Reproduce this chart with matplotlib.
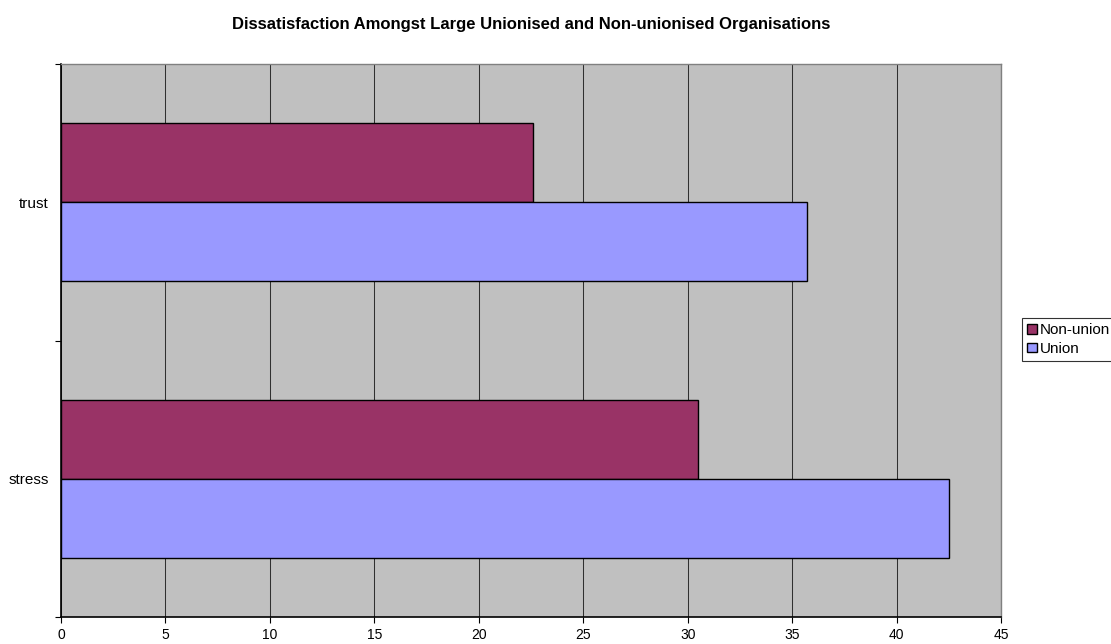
import matplotlib
matplotlib.use("Agg")
import matplotlib.pyplot as plt
import numpy as np

categories = ["stress", "trust"]
non_union = [30.5, 22.6]
union = [42.5, 35.7]
series_names = ["Non-union", "Union"]
x_ticks = [0, 5, 10, 15, 20, 25, 30, 35, 40, 45]

plt.rcParams['font.family'] = ['Liberation Sans', 'DejaVu Sans']

W, H = 1111, 644
fig = plt.figure(figsize=(W/100, H/100), dpi=100)
left, right, top, bottom = 61, 1001, 64, 617
ax = fig.add_axes([left/W, 1-bottom/H, (right-left)/W, (bottom-top)/H])
ax.set_facecolor('#C0C0C0')

y = np.arange(len(categories))
h = 0.2857
ax.barh(y + h/2, non_union, height=h, color='#993366', edgecolor='black', linewidth=1.0, label=series_names[0], zorder=3)
ax.barh(y - h/2, union, height=h, color='#9999FF', edgecolor='black', linewidth=1.0, label=series_names[1], zorder=3)

ax.set_xlim(0, 45)
ax.set_ylim(-0.5, 1.5)
ax.set_xticks(x_ticks)
ax.set_xticklabels([str(t) for t in x_ticks], fontsize=10)
ax.xaxis.grid(True, color='#303030', linewidth=0.75, zorder=1)
ax.set_axisbelow(True)

# y ticks: marks at category boundaries, labels at centers
ax.set_yticks([-0.5, 0.5, 1.5])
ax.set_yticklabels([])
ax.set_yticks(y, minor=True)
ax.set_yticklabels(categories, minor=True, fontsize=11)
ax.tick_params(axis='y', which='minor', length=0, pad=9)
ax.tick_params(axis='y', which='major', length=4, direction='out', color='black')
ax.tick_params(axis='x', length=4, direction='out', color='black', pad=4)

for s in ['top', 'right']:
    ax.spines[s].set_color('#808080')
    ax.spines[s].set_linewidth(1.0)
for s in ['left', 'bottom']:
    ax.spines[s].set_color('black')
    ax.spines[s].set_linewidth(1.2)

fig.text((left+right)/2/W, 1-24/H, "Dissatisfaction Amongst Large Unionised and Non-unionised Organisations",
         ha='center', va='center', fontsize=12, fontweight='bold')

leg = fig.legend(loc='upper left', bbox_to_anchor=(1022/W, 1-318/H), bbox_transform=fig.transFigure,
                 fontsize=11, frameon=True, fancybox=False, edgecolor='black',
                 handlelength=0.6, handleheight=0.6, handletextpad=0.2,
                 borderpad=0.35, labelspacing=0.3, borderaxespad=0)
leg.get_frame().set_linewidth(0.8)

fig.savefig("out.png", dpi=100)
